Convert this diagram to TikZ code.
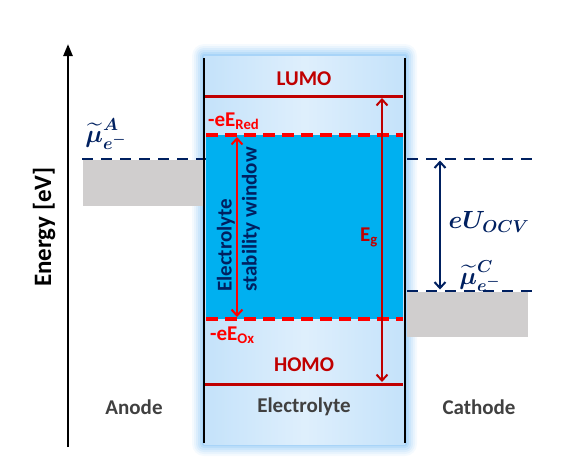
\documentclass[tikz,border=0pt]{standalone}
\usepackage{amsmath,amssymb}
\usepackage{fontspec}
\setmainfont{Carlito}
\usetikzlibrary{arrows.meta}
\definecolor{navy}{HTML}{002060}
\definecolor{dred}{HTML}{C00000}
\definecolor{bred}{HTML}{FF0000}
\definecolor{cyanfill}{HTML}{00B0F0}
\definecolor{paleblue}{HTML}{C4E2FA}
\definecolor{glowblue}{HTML}{6FB8F3}
\definecolor{greyrect}{HTML}{D0CECE}
\definecolor{txtgrey}{HTML}{404040}
\tikzset{
  lbl/.style={font=\fontsize{21}{25}\selectfont\bfseries, inner sep=0pt},
  navydash/.style={navy, line width=2.8pt, dash pattern=on 11pt off 8pt},
  reddash/.style={bred, line width=3.2pt, dash pattern=on 12pt off 7pt},
  level/.style={dred, line width=3pt},
  barb/.style={{Straight Barb[length=6pt,width=11pt,line width=2pt]}-{Straight Barb[length=6pt,width=11pt,line width=2pt]}},
  mathlbl/.style={navy, inner sep=0pt, font=\fontsize{27}{31}\selectfont},
}
\begin{document}
\begin{tikzpicture}[x=1pt,y=-1pt]
\useasboundingbox (0,0) rectangle (570,456);
% glow
\foreach \d/\o in {12/0.07,10/0.09,8/0.11,6/0.14,4/0.18,2/0.25}{
  \fill[glowblue, opacity=\o, rounded corners=\d pt] (204-\d,56-\d) rectangle (405+\d,444+\d);
}
\fill[left color=paleblue, right color=paleblue, middle color=paleblue!55!white] (204,56) rectangle (405,444);
% blue window
\fill[cyanfill] (206,135) rectangle (403,319);
% anode
\fill[greyrect] (83,160) rectangle (204,206);
\coordinate (aL) at (82,159);
\coordinate (aR) at (206,159);
\draw[navydash] (aL) -- (aR);
% cathode
\fill[greyrect] (407,292) rectangle (528,337);
\coordinate (cT1) at (407,159);
\coordinate (cT2) at (533,159);
\coordinate (cB1) at (407,291);
\coordinate (cB2) at (533,291);
\draw[navydash] (cT1) -- (cT2);
\draw[navydash] (cB1) -- (cB2);
\coordinate (ocvT) at (440,160.5);
\coordinate (ocvB) at (440,289.5);
\draw[navy, line width=2pt, barb] (ocvT) -- (ocvB);
% box walls
\coordinate (wl1) at (204,58);
\coordinate (wl2) at (204,443);
\coordinate (wr1) at (405,58);
\coordinate (wr2) at (405,443);
\draw[black, line width=2.6pt] (wl1) -- (wl2);
\draw[black, line width=2.6pt] (wr1) -- (wr2);
% levels
\coordinate (lumoL) at (205,96);
\coordinate (lumoR) at (403,96);
\coordinate (homoL) at (205,384);
\coordinate (homoR) at (403,384);
\draw[level] (lumoL) -- (lumoR);
\draw[level] (homoL) -- (homoR);
\coordinate (redL) at (206,135);
\coordinate (redR) at (403,135);
\coordinate (oxL) at (206,319);
\coordinate (oxR) at (403,319);
\draw[reddash] (redL) -- (redR);
\draw[reddash] (oxL) -- (oxR);
% arrows
\coordinate (egT) at (382,98);
\coordinate (egB) at (382,382);
\draw[dred, line width=2pt, barb] (egT) -- (egB);
\coordinate (swT) at (237,137);
\coordinate (swB) at (237,317);
\draw[bred, line width=2pt, barb] (swT) -- (swB);
% axis
\coordinate (ax0) at (68,447);
\coordinate (ax1) at (68,44);
\draw[black, line width=2.4pt, -{Triangle[length=12pt,width=9pt]}] (ax0) -- (ax1);
% labels
\node[lbl, rotate=90] (energy) at (44,227) {\fontsize{25}{29}\selectfont Energy [eV]};
\node[lbl, dred] (lumo) at (304,79) {LUMO};
\node[lbl, dred] (homo) at (304,365) {HOMO};
\node[lbl, bred, anchor=west] (ered) at (208,121) {-eE\textsubscript{Red}};
\node[lbl, bred, anchor=west] (eox) at (210,335) {-eE\textsubscript{Ox}};
\node[lbl, dred] (eg) at (369,237) {E\textsubscript{g}};
\node[lbl, navy, rotate=90, align=left, anchor=west] (sw) at (238.5,292) {Electrolyte\\stability window};
\node[lbl, txtgrey] (anode) at (134,407) {Anode};
\node[lbl, txtgrey] (electrolyte) at (304,407) {Electrolyte};
\node[lbl, txtgrey] (cathode) at (479,407) {Cathode};
\node[mathlbl] (muA) at (106,134) {$\boldsymbol{\widetilde{\mu}}^{\boldsymbol{A}}_{\boldsymbol{e^-}}$};
\node[mathlbl] (muC) at (480,276) {$\boldsymbol{\widetilde{\mu}}^{\boldsymbol{C}}_{\boldsymbol{e^-}}$};
\node[mathlbl] (ocv) at (489,222) {$\boldsymbol{eU_{OCV}}$};
\end{tikzpicture}
\end{document}
